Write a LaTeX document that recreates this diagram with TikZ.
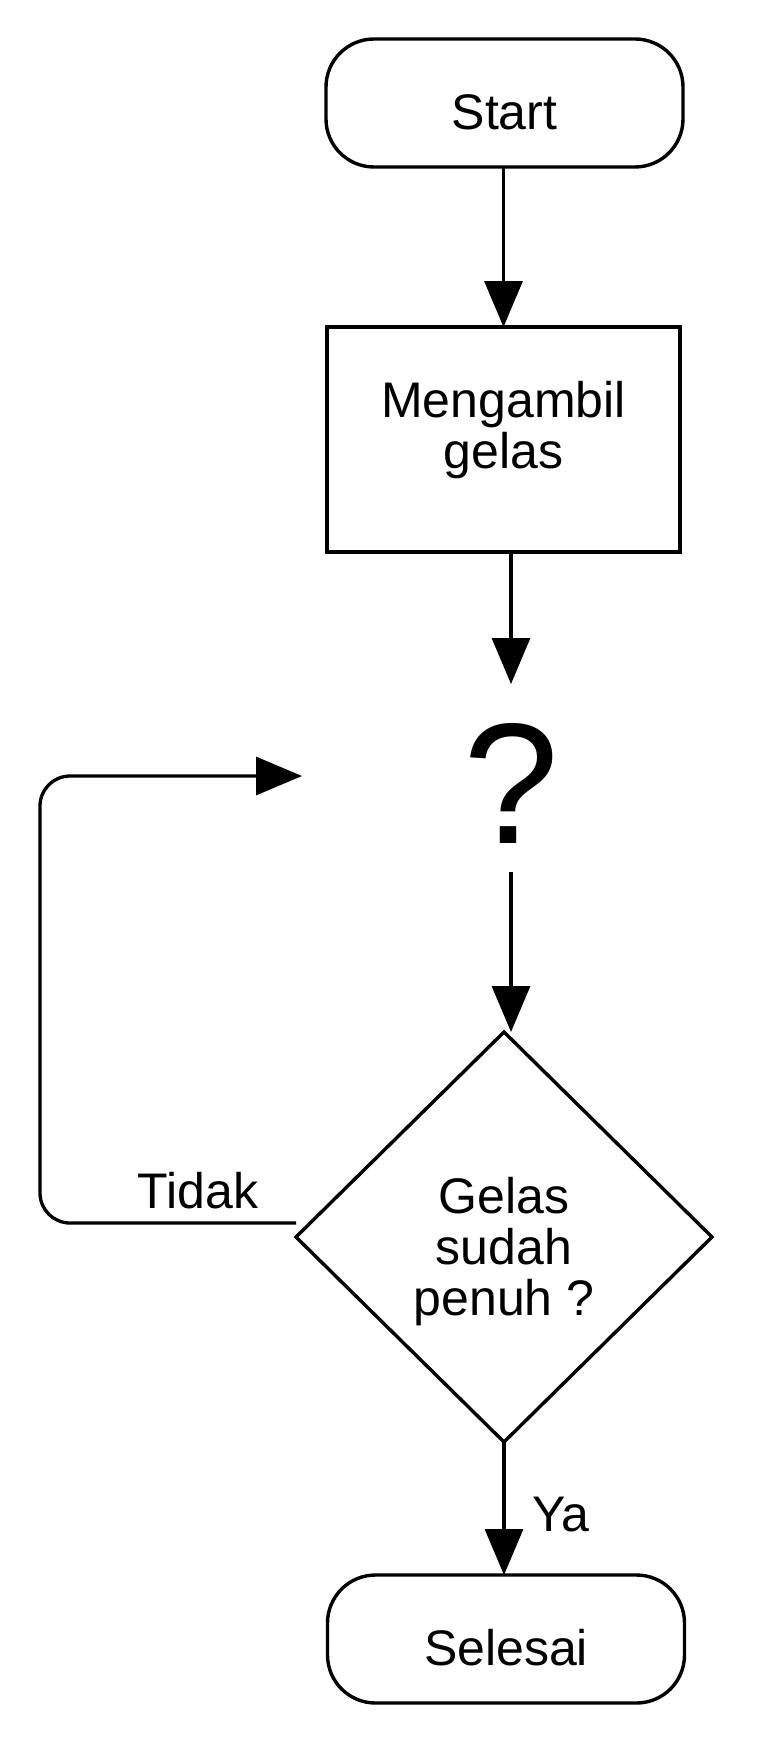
\documentclass[tikz,border=0pt]{standalone}
\usepackage{fontspec}
\setmainfont{Liberation Sans}
\usetikzlibrary{arrows.meta,shapes.geometric,calc}
\begin{document}
\begin{tikzpicture}[x=1pt,y=-1pt,
  every node/.style={font=\fontsize{50}{51}\selectfont, inner sep=0pt, outer sep=0pt},
  shapeline/.style={draw, line width=3.4pt},
  term/.style={shapeline, rectangle, rounded corners=48pt, minimum width=357pt, minimum height=128pt},
  proc/.style={shapeline, line width=4pt, rectangle, minimum width=353pt, minimum height=225pt, align=center},
  dec/.style={shapeline, diamond, minimum width=416pt, minimum height=410pt, align=center},
  arr/.style={line width=3.3pt, -{Triangle[length=46pt,width=38pt]}},
]
\fill[white] (0,0) rectangle (777,1744);
\useasboundingbox (0,0) rectangle (777,1744);

\node[term, text height=54pt, text depth=0pt] (start) at (504.5,103) {Start};
\node[proc, text height=57pt, text depth=0pt] (box) at (503.5,439.5) {Mengambil\\gelas};
\node[font=\fontsize{172}{172}\selectfont, minimum width=418pt, minimum height=188pt, text height=130pt, text depth=0pt] (q) at (511,778) {?};
\node[dec, text height=156pt, text depth=0pt] (d) at (504,1237) {Gelas\\sudah\\penuh ?};
\node[term, text height=52pt, text depth=0pt] (sel) at (506,1639) {Selesai};

\draw[arr] (box.north |- start.south) -- (box.north);
\draw[arr] (q.north |- box.south) -- (q.north);
\draw[arr] (q.south) -- (q.south |- d.north);
\draw[arr] (d.south) -- node[pos=0.674, anchor=base west, xshift=28pt] (ya) {Ya} (d.south |- sel.north);

\coordinate (ls) at ($(d.west)+(0,-14)$);
\coordinate (lc) at (40,776);
\draw[arr, rounded corners=30pt] (ls) -- node[pos=0.383, anchor=base, yshift=15pt] (tidak) {Tidak} (ls -| lc) -- (lc) -- (lc -| q.west);
\end{tikzpicture}
\end{document}
